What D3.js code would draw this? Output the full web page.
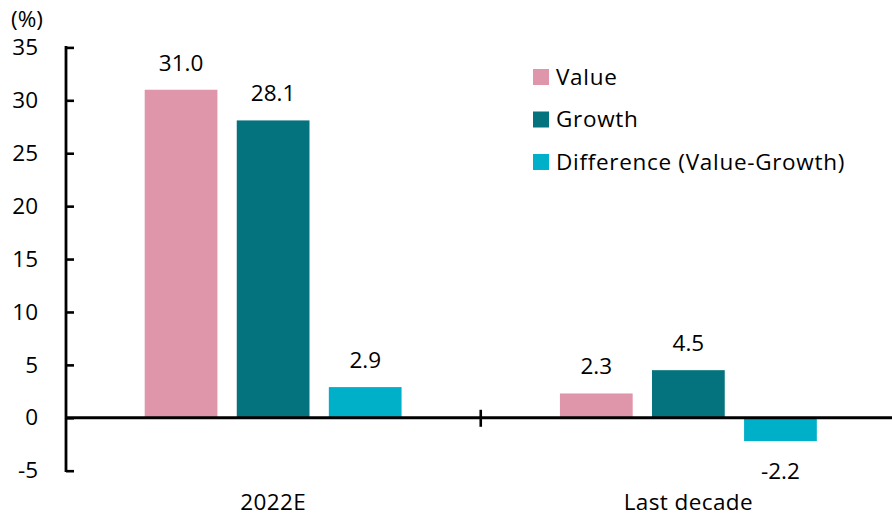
<!DOCTYPE html>
<html>
<head>
<meta charset="utf-8">
<script src="https://cdn.jsdelivr.net/npm/d3@7"></script>
<style>
  html, body { margin: 0; padding: 0; background: #fff; }
  svg { display: block; }
  text { font-family: "Open Sans", Lato, sans-serif; fill: #000; }
</style>
</head>
<body>
<svg id="chart" width="892" height="518"></svg>
<script>
// Periods on the x axis
const categories = ["2022E", "Last decade"];
// Series names, in drawing order
const series = ["Value", "Growth", "Difference (Value-Growth)"];
// Series values per period (%)
const valueReturns = [31.0, 2.3];
const growthReturns = [28.1, 4.5];
const differenceReturns = [2.9, -2.2];
// Y-axis ticks
const yTicks = [-5, 0, 5, 10, 15, 20, 25, 30, 35];

const colors = ["#E096AA", "#05737E", "#00B0C8"];
const seriesValues = [valueReturns, growthReturns, differenceReturns];

const svg = d3.select("#chart");
const fontSize = 22.5;

const y = d3.scaleLinear().domain([-5, 35]).range([470.7, 47.4]);
const x0 = d3.scaleBand().domain(categories).range([65.5, 896]).padding(0);
const x1 = d3.scaleBand().domain(series).range([0, x0.bandwidth()])
  .paddingInner(0.21).paddingOuter(0.86);

// Y axis: ticks point inward, labels to the left (plain hyphen for negatives)
const yAxis = d3.axisLeft(y).tickValues(yTicks).tickFormat(d => String(d))
  .tickSizeInner(-8).tickSizeOuter(0).tickPadding(28);
const gy = svg.append("g").attr("transform", "translate(66,0)").call(yAxis);
gy.select(".domain").remove();
gy.selectAll(".tick line").attr("stroke", "#000").attr("stroke-width", 2.6);
gy.selectAll(".tick text")
  .style("font-size", fontSize + "px")
  .style("font-family", "'Open Sans', Lato, sans-serif")
  .attr("fill", "#000");
gy.append("line")
  .attr("x1", 0).attr("x2", 0)
  .attr("y1", y(35) - 1.3).attr("y2", y(-5) + 1.3)
  .attr("stroke", "#000").attr("stroke-width", 2.8);

// Unit label
svg.append("text").attr("x", 11).attr("y", 27).style("font-size", fontSize + "px").text("(%)");

// Bars
categories.forEach((cat, ci) => {
  const g = svg.append("g").attr("transform", `translate(${x0(cat)},0)`);
  series.forEach((s, si) => {
    const v = seriesValues[si][ci];
    const top = y(Math.max(0, v));
    const bottom = y(Math.min(0, v));
    g.append("rect")
      .attr("x", x1(s)).attr("width", x1.bandwidth())
      .attr("y", top).attr("height", bottom - top)
      .attr("fill", colors[si]);
    g.append("text")
      .attr("x", x1(s) + x1.bandwidth() / 2)
      .attr("y", v >= 0 ? top - 19 : bottom + 38)
      .attr("text-anchor", "middle")
      .style("font-size", fontSize + "px")
      .text(v.toFixed(1));
  });
});

// Zero line and category separator
svg.append("line")
  .attr("x1", 65).attr("x2", 892).attr("y1", y(0)).attr("y2", y(0))
  .attr("stroke", "#000").attr("stroke-width", 3);
svg.append("line")
  .attr("x1", x0("Last decade")).attr("x2", x0("Last decade"))
  .attr("y1", y(0) - 8).attr("y2", y(0) + 9)
  .attr("stroke", "#000").attr("stroke-width", 2.6);

// Category labels
categories.forEach(cat => {
  svg.append("text")
    .attr("x", x0(cat) + x0.bandwidth() / 2)
    .attr("y", 510)
    .attr("text-anchor", "middle")
    .style("font-size", fontSize + "px")
    .style("letter-spacing", "0.4px")
    .text(cat);
});

// Legend
const legend = svg.append("g").attr("transform", "translate(533,69)");
series.forEach((s, i) => {
  const row = legend.append("g").attr("transform", `translate(0,${i * 42.5})`);
  row.append("rect").attr("width", 16).attr("height", 16).attr("fill", colors[i]);
  row.append("text").attr("x", 23).attr("y", 15.5)
    .style("font-size", fontSize + "px")
    .style("letter-spacing", "0.7px")
    .text(s);
});
</script>
</body>
</html>
